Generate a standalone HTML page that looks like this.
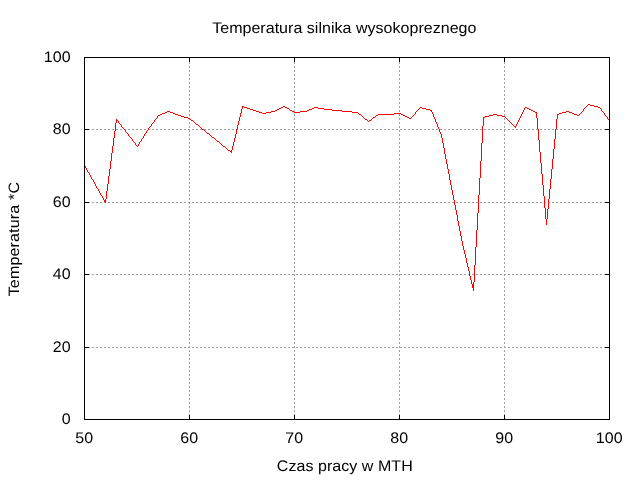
<!DOCTYPE html>
<html lang="pl">
<head>
<meta charset="utf-8">
<title>Temperatura silnika wysokopreznego</title>
<style>
html,body{margin:0;padding:0;background:#fff;}
body{width:640px;height:480px;overflow:hidden;}
svg{display:block;}
text{font-family:"Liberation Sans",Arial,sans-serif;font-size:16px;fill:#000;text-rendering:geometricPrecision;}
</style>
</head>
<body>
<svg width="640" height="480" viewBox="0 0 640 480">
<rect x="0" y="0" width="640" height="480" fill="#ffffff"/>
<g shape-rendering="crispEdges" fill="none" stroke-width="1">
<g stroke="#a0a0a0" stroke-dasharray="2 2">
<line x1="84" y1="347.5" x2="610" y2="347.5"/>
<line x1="84" y1="274.5" x2="610" y2="274.5"/>
<line x1="84" y1="202.5" x2="610" y2="202.5"/>
<line x1="84" y1="129.5" x2="610" y2="129.5"/>
<line x1="189.5" y1="420" x2="189.5" y2="57"/>
<line x1="294.5" y1="420" x2="294.5" y2="57"/>
<line x1="399.5" y1="420" x2="399.5" y2="57"/>
<line x1="504.5" y1="420" x2="504.5" y2="57"/>
</g>
<g stroke="#000000">
<line x1="84" y1="419.5" x2="89" y2="419.5"/>
<line x1="605" y1="419.5" x2="610" y2="419.5"/>
<line x1="84" y1="347.5" x2="89" y2="347.5"/>
<line x1="605" y1="347.5" x2="610" y2="347.5"/>
<line x1="84" y1="274.5" x2="89" y2="274.5"/>
<line x1="605" y1="274.5" x2="610" y2="274.5"/>
<line x1="84" y1="202.5" x2="89" y2="202.5"/>
<line x1="605" y1="202.5" x2="610" y2="202.5"/>
<line x1="84" y1="129.5" x2="89" y2="129.5"/>
<line x1="605" y1="129.5" x2="610" y2="129.5"/>
<line x1="84" y1="57.5" x2="89" y2="57.5"/>
<line x1="605" y1="57.5" x2="610" y2="57.5"/>
<line x1="84.5" y1="420" x2="84.5" y2="415"/>
<line x1="84.5" y1="57" x2="84.5" y2="62"/>
<line x1="189.5" y1="420" x2="189.5" y2="415"/>
<line x1="189.5" y1="57" x2="189.5" y2="62"/>
<line x1="294.5" y1="420" x2="294.5" y2="415"/>
<line x1="294.5" y1="57" x2="294.5" y2="62"/>
<line x1="399.5" y1="420" x2="399.5" y2="415"/>
<line x1="399.5" y1="57" x2="399.5" y2="62"/>
<line x1="504.5" y1="420" x2="504.5" y2="415"/>
<line x1="504.5" y1="57" x2="504.5" y2="62"/>
<line x1="609.5" y1="420" x2="609.5" y2="415"/>
<line x1="609.5" y1="57" x2="609.5" y2="62"/>
</g>
<path fill="#ff0000" stroke="none" d="M84 165h1v1h-1zM85 166h1v2h-1zM86 168h1v2h-1zM87 170h1v2h-1zM88 172h1v1h-1zM89 173h1v2h-1zM90 175h1v2h-1zM91 177h1v2h-1zM92 179h1v1h-1zM93 180h1v2h-1zM94 182h1v2h-1zM95 184h1v2h-1zM96 186h1v2h-1zM97 188h1v1h-1zM98 189h1v2h-1zM99 191h1v2h-1zM100 193h1v2h-1zM101 195h1v1h-1zM102 196h1v2h-1zM103 198h1v2h-1zM104 200h2v2h-2zM105 199h1v1h-1zM105 202h1v1h-1zM106 191h1v8h-1zM107 184h1v7h-1zM108 176h1v8h-1zM109 169h1v7h-1zM110 161h1v8h-1zM111 153h1v8h-1zM112 146h1v7h-1zM113 138h1v8h-1zM114 131h1v7h-1zM115 123h1v8h-1zM116 119h1v1h-1zM116 121h1v2h-1zM116 120h2v1h-2zM118 121h1v2h-1zM119 123h1v1h-1zM120 124h1v1h-1zM121 125h1v2h-1zM122 127h1v1h-1zM123 128h1v1h-1zM124 129h1v1h-1zM125 130h1v2h-1zM126 132h1v1h-1zM127 133h1v1h-1zM128 134h1v2h-1zM129 136h1v1h-1zM130 137h1v1h-1zM131 138h1v1h-1zM132 139h1v2h-1zM133 141h1v1h-1zM134 142h1v1h-1zM135 143h1v2h-1zM136 145h1v1h-1zM137 146h1v1h-1zM138 144h1v2h-1zM139 142h1v2h-1zM140 141h1v1h-1zM141 139h1v2h-1zM142 138h1v1h-1zM143 136h1v2h-1zM144 134h1v2h-1zM145 133h1v1h-1zM146 131h1v2h-1zM147 130h1v1h-1zM148 128h1v2h-1zM149 127h1v1h-1zM150 126h1v1h-1zM151 124h1v2h-1zM152 123h1v1h-1zM153 122h1v1h-1zM154 120h1v2h-1zM155 119h1v1h-1zM156 118h1v1h-1zM157 116h1v2h-1zM158 115h2v1h-2zM160 114h2v1h-2zM162 113h3v1h-3zM165 112h2v1h-2zM167 111h3v1h-3zM170 112h3v1h-3zM173 113h2v1h-2zM175 114h3v1h-3zM178 115h3v1h-3zM181 116h3v1h-3zM184 117h4v1h-4zM188 118h2v1h-2zM190 119h1v1h-1zM191 120h2v1h-2zM193 121h1v1h-1zM194 122h1v1h-1zM195 123h1v1h-1zM196 124h2v1h-2zM198 125h1v1h-1zM199 126h1v1h-1zM200 127h1v1h-1zM201 128h1v1h-1zM202 129h2v1h-2zM204 130h1v1h-1zM205 131h1v1h-1zM206 132h1v1h-1zM207 133h2v1h-2zM209 134h1v1h-1zM210 135h1v1h-1zM211 136h1v1h-1zM212 137h2v1h-2zM214 138h1v1h-1zM215 139h1v1h-1zM216 140h1v1h-1zM217 141h2v1h-2zM219 142h1v1h-1zM220 143h1v1h-1zM221 144h1v1h-1zM222 145h1v1h-1zM223 146h2v1h-2zM225 147h1v1h-1zM226 148h1v1h-1zM227 149h1v1h-1zM228 150h2v1h-2zM230 151h2v1h-2zM231 150h1v1h-1zM231 152h1v1h-1zM232 146h1v4h-1zM233 142h1v4h-1zM234 138h1v4h-1zM235 134h1v4h-1zM236 129h1v5h-1zM237 125h1v4h-1zM238 121h1v4h-1zM239 117h1v4h-1zM240 113h1v4h-1zM241 109h1v4h-1zM242 107h1v2h-1zM242 106h2v1h-2zM244 107h3v1h-3zM247 108h3v1h-3zM250 109h3v1h-3zM253 110h3v1h-3zM256 111h3v1h-3zM259 112h3v1h-3zM262 113h4v1h-4zM266 112h5v1h-5zM271 111h4v1h-4zM275 110h2v1h-2zM277 109h2v1h-2zM279 108h2v1h-2zM281 107h2v1h-2zM283 106h2v1h-2zM285 107h2v1h-2zM287 108h2v1h-2zM289 109h1v1h-1zM290 110h2v1h-2zM292 111h2v1h-2zM294 112h6v1h-6zM300 111h7v1h-7zM307 110h2v1h-2zM309 109h3v1h-3zM312 108h2v1h-2zM314 107h4v1h-4zM318 108h6v1h-6zM324 109h8v1h-8zM332 110h10v1h-10zM342 111h10v1h-10zM352 112h6v1h-6zM358 113h1v1h-1zM359 114h2v1h-2zM361 115h1v1h-1zM362 116h1v1h-1zM363 117h1v1h-1zM364 118h1v1h-1zM365 119h2v1h-2zM367 120h1v1h-1zM368 121h1v1h-1zM369 120h2v1h-2zM371 119h1v1h-1zM372 118h1v1h-1zM373 117h2v1h-2zM375 116h1v1h-1zM376 115h2v1h-2zM378 114h16v1h-16zM394 113h7v1h-7zM401 114h2v1h-2zM403 115h2v1h-2zM405 116h2v1h-2zM407 117h2v1h-2zM409 118h2v1h-2zM411 117h1v1h-1zM412 116h1v1h-1zM413 115h1v1h-1zM414 114h1v1h-1zM415 112h1v2h-1zM416 111h1v1h-1zM417 110h1v1h-1zM418 109h1v1h-1zM419 108h1v1h-1zM420 107h2v1h-2zM422 108h4v1h-4zM426 109h4v1h-4zM430 110h2v1h-2zM431 111h1v1h-1zM432 112h1v2h-1zM433 114h1v3h-1zM434 117h1v2h-1zM435 119h1v3h-1zM436 122h1v2h-1zM437 124h1v3h-1zM438 127h1v2h-1zM439 129h1v3h-1zM440 132h1v2h-1zM441 134h1v4h-1zM442 138h1v5h-1zM443 143h1v5h-1zM444 148h1v6h-1zM445 154h1v5h-1zM446 159h1v5h-1zM447 164h1v5h-1zM448 169h1v5h-1zM449 174h1v6h-1zM450 180h1v5h-1zM451 185h1v5h-1zM452 190h1v5h-1zM453 195h1v5h-1zM454 200h1v5h-1zM455 205h1v5h-1zM456 210h1v5h-1zM457 215h1v6h-1zM458 221h1v5h-1zM459 226h1v5h-1zM460 231h1v5h-1zM461 236h1v5h-1zM462 241h1v5h-1zM463 246h1v4h-1zM464 250h1v4h-1zM465 254h1v4h-1zM466 258h1v5h-1zM467 263h1v4h-1zM468 267h1v4h-1zM469 271h1v5h-1zM470 276h1v4h-1zM471 280h1v4h-1zM472 284h2v4h-2zM473 282h1v2h-1zM473 288h1v3h-1zM474 265h1v17h-1zM475 247h1v18h-1zM476 230h1v17h-1zM477 213h1v17h-1zM478 195h1v18h-1zM479 178h1v17h-1zM480 161h1v17h-1zM481 143h1v18h-1zM482 126h1v17h-1zM483 118h1v8h-1zM483 117h2v1h-2zM485 116h4v1h-4zM489 115h4v1h-4zM493 114h4v1h-4zM497 115h5v1h-5zM502 116h3v1h-3zM505 117h1v1h-1zM506 118h1v1h-1zM507 119h1v1h-1zM508 120h1v1h-1zM509 121h1v1h-1zM510 122h1v1h-1zM511 123h1v1h-1zM512 124h1v1h-1zM513 125h1v1h-1zM514 126h2v1h-2zM515 127h1v1h-1zM516 124h1v2h-1zM517 122h1v2h-1zM518 120h1v2h-1zM519 118h1v2h-1zM520 116h1v2h-1zM521 114h1v2h-1zM522 112h1v2h-1zM523 110h1v2h-1zM524 108h1v2h-1zM525 107h2v1h-2zM527 108h2v1h-2zM529 109h2v1h-2zM531 110h2v1h-2zM533 111h2v1h-2zM535 112h2v1h-2zM536 113h1v5h-1zM537 118h1v11h-1zM538 129h1v11h-1zM539 140h1v12h-1zM540 152h1v11h-1zM541 163h1v11h-1zM542 174h1v11h-1zM543 185h1v11h-1zM544 196h1v12h-1zM545 208h1v11h-1zM546 219h1v6h-1zM547 209h1v10h-1zM548 199h1v10h-1zM549 189h1v10h-1zM550 179h1v10h-1zM551 169h1v10h-1zM552 159h1v10h-1zM553 149h1v10h-1zM554 139h1v10h-1zM555 129h1v10h-1zM556 119h1v10h-1zM557 115h1v4h-1zM557 114h2v1h-2zM559 113h3v1h-3zM562 112h4v1h-4zM566 111h3v1h-3zM569 112h3v1h-3zM572 113h2v1h-2zM574 114h3v1h-3zM577 115h2v1h-2zM579 114h1v1h-1zM580 113h1v1h-1zM581 112h1v1h-1zM582 111h1v1h-1zM583 109h1v2h-1zM584 108h1v1h-1zM585 107h1v1h-1zM586 106h1v1h-1zM587 105h1v1h-1zM588 104h2v1h-2zM590 105h4v1h-4zM594 106h4v1h-4zM598 107h2v1h-2zM600 108h1v1h-1zM601 109h1v2h-1zM602 111h1v1h-1zM603 112h1v1h-1zM604 113h1v2h-1zM605 115h1v1h-1zM606 116h1v1h-1zM607 117h1v2h-1zM608 119h1v1h-1zM609 120h1v1h-1z"/>
<rect x="84.5" y="57.5" width="525" height="362" stroke="#000000"/>
</g>
<text transform="translate(70.8,424) scale(1,0.96)" text-anchor="end" letter-spacing="0.1">0</text>
<text transform="translate(70.8,352) scale(1,0.96)" text-anchor="end" letter-spacing="0.1">20</text>
<text transform="translate(70.8,279) scale(1,0.96)" text-anchor="end" letter-spacing="0.1">40</text>
<text transform="translate(70.8,207) scale(1,0.96)" text-anchor="end" letter-spacing="0.1">60</text>
<text transform="translate(70.8,134) scale(1,0.96)" text-anchor="end" letter-spacing="0.1">80</text>
<text transform="translate(70.8,62) scale(1,0.96)" text-anchor="end" letter-spacing="0.1">100</text>
<text transform="translate(84.2,443) scale(1,0.96)" text-anchor="middle" letter-spacing="0.1">50</text>
<text transform="translate(189.2,443) scale(1,0.96)" text-anchor="middle" letter-spacing="0.1">60</text>
<text transform="translate(294.2,443) scale(1,0.96)" text-anchor="middle" letter-spacing="0.1">70</text>
<text transform="translate(399.2,443) scale(1,0.96)" text-anchor="middle" letter-spacing="0.1">80</text>
<text transform="translate(504.2,443) scale(1,0.96)" text-anchor="middle" letter-spacing="0.1">90</text>
<text transform="translate(609.2,443) scale(1,0.96)" text-anchor="middle" letter-spacing="0.1">100</text>
<text transform="translate(344.3,33) scale(1,0.96)" text-anchor="middle" letter-spacing="0.03">Temperatura silnika wysokopreznego</text>
<text transform="translate(344.8,470.5) scale(1,0.96)" text-anchor="middle" letter-spacing="0.05">Czas pracy w MTH</text>
<text transform="translate(19,239.1) rotate(-90) scale(1,0.94)" text-anchor="middle" letter-spacing="0.17">Temperatura *C</text>
</svg>
</body>
</html>
